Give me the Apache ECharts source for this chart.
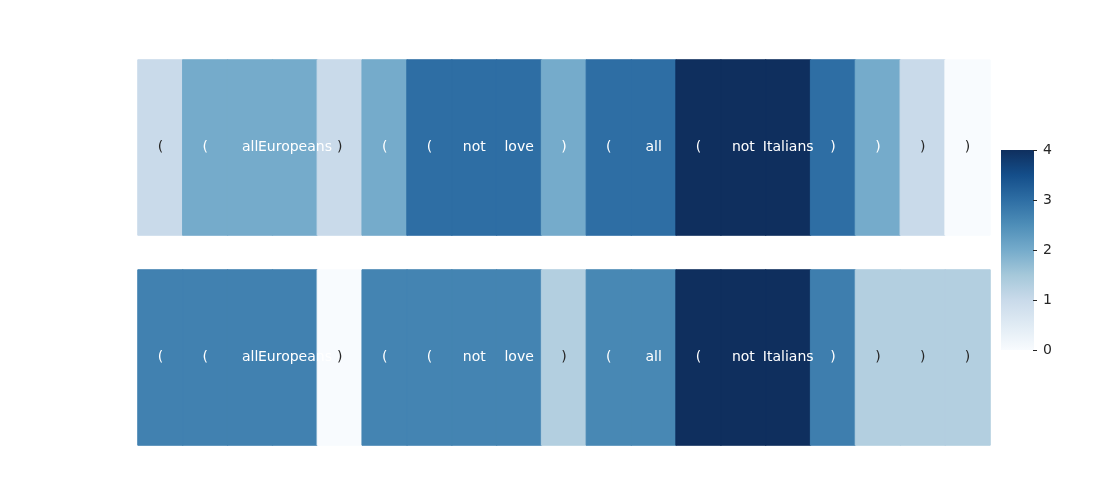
<!DOCTYPE html>
<html>
<head>
<meta charset="utf-8">
<script src="https://cdn.jsdelivr.net/npm/echarts@6/dist/echarts.min.js"></script>
<style>
  html, body { margin: 0; padding: 0; background: #fff; }
  #main { width: 1100px; height: 500px; }
</style>
</head>
<body>
<div id="main"></div>
<script>
// tokens of the two rows
var tokensTop = ['(', '(', 'all', 'Europeans', ')', '(', '(', 'not', 'love', ')', '(', 'all', '(', 'not', 'Italians', ')', ')', ')', ')'];
var tokensBottom = ['(', '(', 'all', 'Europeans', ')', '(', '(', 'not', 'love', ')', '(', 'all', '(', 'not', 'Italians', ')', ')', ')', ')'];
// values per token
var valuesTop = [1, 2, 2, 2, 1, 2, 3, 3, 3, 2, 3, 3, 4, 4, 4, 3, 2, 1, 0];
var valuesBottom = [2.7, 2.7, 2.7, 2.7, 0, 2.65, 2.65, 2.65, 2.65, 1.3, 2.6, 2.6, 4, 4, 4, 2.75, 1.3, 1.3, 1.3];
var colorbarTicks = [0, 1, 2, 3, 4];

// muted "Blues" colormap, light -> dark
var blues = ['#f8fbfe', '#e0ebf4', '#c9daea', '#a5c8da', '#75abcb', '#4e8eb8', '#2e6ea4', '#144e8a', '#0f2f5e'];
var vmin = 0, vmax = 4;

function cellColor(v) {
    return echarts.color.lerp((v - vmin) / (vmax - vmin), blues);
}

function buildData(vals, tokens) {
    var out = [];
    for (var i = 0; i < vals.length; i++) {
        var c = cellColor(vals[i]);
        out.push({
            value: [i, 0, vals[i]],
            name: tokens[i],
            itemStyle: { color: c, borderColor: c, borderWidth: 1 },
            label: { color: vals[i] < 1.6 ? '#262626' : '#ffffff' }
        });
    }
    return out;
}

function idx(arr) {
    var r = [];
    for (var i = 0; i < arr.length; i++) r.push(String(i));
    return r;
}

var chart = echarts.init(document.getElementById('main'));

var cellLabel = {
    show: true,
    fontFamily: 'DejaVu Sans',
    fontSize: 14,
    formatter: function (p) { return p.data.name; }
};

// colorbar gradient (bottom = vmin, top = vmax)
var stops = [];
for (var i = 0; i < blues.length; i++) {
    stops.push({ offset: i / (blues.length - 1), color: blues[blues.length - 1 - i] });
}

var option = {
    animation: false,
    backgroundColor: '#ffffff',
    grid: [
        { left: 138, top: 60, width: 852, height: 175 },
        { left: 138, top: 270, width: 852, height: 175 },
        // thin grid that only carries the colorbar's tick axis
        { left: 1033, top: 150, width: 1, height: 200 }
    ],
    xAxis: [
        { type: 'category', gridIndex: 0, data: idx(tokensTop), show: false },
        { type: 'category', gridIndex: 1, data: idx(tokensBottom), show: false },
        { type: 'value', gridIndex: 2, show: false, min: 0, max: 1 }
    ],
    yAxis: [
        { type: 'category', gridIndex: 0, data: ['0'], show: false },
        { type: 'category', gridIndex: 1, data: ['0'], show: false },
        {
            type: 'value', gridIndex: 2, position: 'right',
            min: colorbarTicks[0], max: colorbarTicks[colorbarTicks.length - 1], interval: 1,
            axisLine: { show: false },
            axisTick: { show: true, length: 4, lineStyle: { color: '#262626', width: 1 } },
            splitLine: { show: false },
            axisLabel: { color: '#262626', fontFamily: 'DejaVu Sans', fontSize: 14, margin: 9 }
        }
    ],
    graphic: [
        {
            type: 'rect',
            z: -10,
            silent: true,
            shape: { x: 1001, y: 150, width: 33, height: 200 },
            style: {
                fill: new echarts.graphic.LinearGradient(0, 0, 0, 1, stops)
            }
        }
    ],
    series: [
        {
            type: 'heatmap', xAxisIndex: 0, yAxisIndex: 0,
            data: buildData(valuesTop, tokensTop),
            label: cellLabel
        },
        {
            type: 'heatmap', xAxisIndex: 1, yAxisIndex: 1,
            data: buildData(valuesBottom, tokensBottom),
            label: cellLabel
        },
        {
            type: 'line', xAxisIndex: 2, yAxisIndex: 2, data: [], silent: true
        }
    ]
};

chart.setOption(option);
</script>
</body>
</html>
